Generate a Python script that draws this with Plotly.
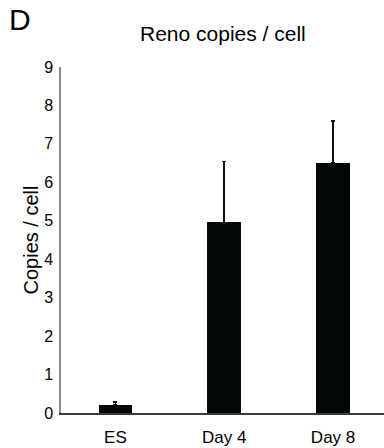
import plotly.graph_objects as go

categories = ["ES", "Day 4", "Day 8"]
values = [0.22, 4.96, 6.50]
errors = [0.07, 1.58, 1.10]
y_ticks = [0, 1, 2, 3, 4, 5, 6, 7, 8, 9]

W, H = 384, 448
L, R, T, B = 61, 0, 67, 35

fig = go.Figure()
fig.add_trace(go.Bar(
    x=categories, y=values, width=0.31,
    marker=dict(color="#050808", line=dict(width=0)),
    error_y=dict(type="data", symmetric=False, array=errors,
                 arrayminus=[0, 0, 0], color="#111111", thickness=1.5, width=2),
))

pw = W - L - R
ph = H - T - B
def px_x(x):
    return (x - L) / pw
def px_y(y):
    return (H - B - y) / ph

fig.update_layout(
    width=W, height=H,
    margin=dict(l=L, r=R, t=T, b=B, pad=0),
    paper_bgcolor="white", plot_bgcolor="white",
    font=dict(family="Liberation Sans, Arial, sans-serif", color="black"),
    showlegend=False,
    bargap=0,
    xaxis=dict(range=[-0.5, 2.468], showgrid=False, zeroline=False,
               showline=True, linecolor="#3a3a3a", linewidth=1.5,
               ticks="outside", ticklen=8, tickcolor="rgba(0,0,0,0)",
               tickfont=dict(size=17)),
    yaxis=dict(range=[0, 9], tickvals=y_ticks, showgrid=False, zeroline=False,
               showline=True, linecolor="#8c8c8c", linewidth=1.5,
               ticks="outside", ticklen=3, tickcolor="rgba(0,0,0,0)",
               tickfont=dict(size=16),
               title=dict(text="Copies / cell", font=dict(size=20), standoff=0)),
    annotations=[
        dict(text="Reno copies / cell", x=px_x(223), y=px_y(33), xref="paper", yref="paper",
             xanchor="center", yanchor="middle", showarrow=False, font=dict(size=21)),
        dict(text="D", x=px_x(20), y=px_y(20), xref="paper", yref="paper",
             xanchor="center", yanchor="middle", showarrow=False, font=dict(size=30)),
    ],
)

fig.write_html("out.html", config={"displayModeBar": False},
               post_script="document.body.style.margin='0';document.body.style.overflow='hidden';")
